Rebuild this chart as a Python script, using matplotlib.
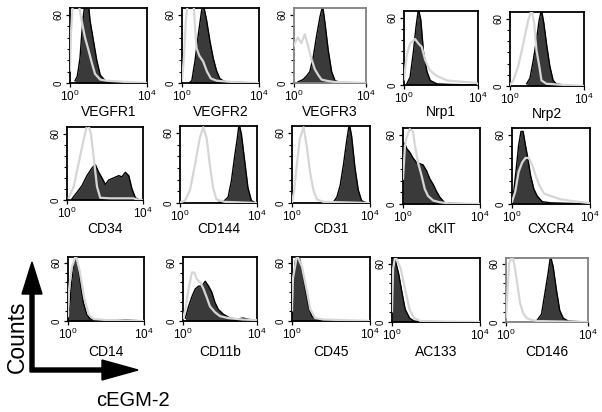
import numpy as np
import matplotlib
matplotlib.use('Agg')
import matplotlib.pyplot as plt
from matplotlib.patches import FancyArrow
from matplotlib.ticker import FixedLocator, LogLocator, NullFormatter

plt.rcParams['font.family'] = ['Liberation Sans', 'DejaVu Sans']
plt.rcParams['mathtext.default'] = 'regular'

W, H = 602, 412

# x in decades (log10 of fluorescence), y in counts
VEGFR1_pos_x = [0.26, 0.38, 0.52, 0.61, 0.70, 0.78, 0.96, 1.04, 1.22, 1.39, 1.57, 1.83, 2.6, 3.3, 4.0]
VEGFR1_pos_y = [2, 6, 22, 43, 60, 70, 70, 55, 37, 20, 7, 2, 0.5, 0.3, 0]
VEGFR1_ctl_x = [0, 0.05, 0.15, 0.45, 0.6, 0.78, 0.96, 1.13, 1.3, 1.57, 1.9, 2.8, 3.5, 4.0]
VEGFR1_ctl_y = [11, 44, 70, 70, 55, 40, 29, 18, 8, 3, 2, 1, 0.5, 0]

VEGFR2_pos_x = [0.4, 0.51, 0.68, 0.85, 1.02, 1.1, 1.28, 1.45, 1.62, 1.79, 1.96, 2.13, 2.3, 3.0, 4.0]
VEGFR2_pos_y = [0.5, 2, 20, 43, 64, 70, 55, 37, 22, 11, 4, 2, 1, 0.5, 0]
VEGFR2_ctl_x = [0, 0.1, 0.2, 0.3, 0.6, 0.75, 0.9, 1.1, 1.3, 1.5, 1.8, 2.5, 3.3, 4.0]
VEGFR2_ctl_y = [2, 22, 55, 70, 70, 31, 24, 19, 10, 4, 2, 1, 0.3, 0]

VEGFR3_pos_x = [0.22, 0.5, 0.69, 0.88, 1.07, 1.25, 1.44, 1.59, 1.72, 1.9, 2.09, 2.28, 2.6, 4.0]
VEGFR3_pos_y = [1, 3, 6, 10, 23, 41, 58, 68, 53, 29, 10, 2, 0.5, 0]
VEGFR3_ctl_x = [0, 0.04, 0.22, 0.41, 0.6, 0.79, 0.97, 1.16, 1.35, 1.53, 1.8, 2.2, 3.0, 4.0]
VEGFR3_ctl_y = [33, 35, 40, 35, 43, 32, 21, 12, 7, 3, 2, 1, 0.5, 0]

Nrp1_pos_x = [0.15, 0.33, 0.51, 0.65, 0.78, 0.91, 1.05, 1.24, 1.42, 1.78, 2.5, 4.0]
Nrp1_pos_y = [1, 7, 30, 52, 68, 58, 30, 12, 4, 1, 0.5, 0]
Nrp1_ctl_x = [0, 0.15, 0.33, 0.6, 0.78, 0.96, 1.15, 1.4, 1.78, 2.33, 3.05, 3.87, 4.0]
Nrp1_ctl_y = [5, 27, 37, 41, 37, 34, 22, 13, 8, 4, 3, 2, 1]

Nrp2_pos_x = [0.9, 1.08, 1.26, 1.43, 1.58, 1.7, 1.83, 1.97, 2.15, 2.33, 2.5, 3.0, 4.0]
Nrp2_pos_y = [2, 7, 23, 41, 59, 68, 56, 38, 18, 5, 2, 0.5, 0]
Nrp2_ctl_x = [0, 0.18, 0.45, 0.72, 0.99, 1.17, 1.31, 1.43, 1.58, 1.7, 1.97, 2.87, 4.0]
Nrp2_ctl_y = [1, 5, 18, 38, 59, 68, 56, 32, 18, 5, 2, 1, 0]

CD34_pos_x = [0.26, 0.53, 0.79, 1.05, 1.32, 1.49, 1.67, 1.84, 2.02, 2.19, 2.46, 2.72, 2.89, 3.07, 3.25, 3.42, 3.6, 3.77, 4.0]
CD34_pos_y = [1, 7, 13, 22, 29, 32, 25, 20, 14, 18, 20, 22, 21, 25, 22, 10, 2, 0.3, 0]
CD34_ctl_x = [0.09, 0.35, 0.61, 0.88, 1.09, 1.26, 1.44, 1.58, 1.75, 2.28, 3.5, 3.68, 4.0]
CD34_ctl_y = [2, 12, 33, 55, 70, 60, 33, 12, 2, 1.5, 1.5, 0.5, 0]

CD144_pos_x = [2.0, 2.24, 2.5, 2.67, 2.84, 2.98, 3.07, 3.19, 3.36, 3.53, 3.71, 3.88, 4.0]
CD144_pos_y = [0.5, 1, 5, 19, 40, 56, 68, 59, 36, 13, 2, 0.5, 0]
CD144_ctl_x = [0, 0.26, 0.52, 0.78, 1.03, 1.21, 1.38, 1.55, 1.72, 1.9, 2.3, 4.0]
CD144_ctl_y = [0.5, 2, 11, 33, 56, 65, 56, 33, 13, 3, 1, 0]

CD31_pos_x = [1.8, 2.13, 2.3, 2.47, 2.64, 2.81, 2.94, 3.06, 3.23, 3.4, 3.57, 3.74, 4.0]
CD31_pos_y = [0.5, 1, 5, 15, 33, 54, 68, 57, 30, 11, 2, 0.5, 0]
CD31_ctl_x = [0, 0.1, 0.25, 0.4, 0.6, 0.77, 0.94, 1.1, 1.28, 1.6, 4.0]
CD31_ctl_y = [1, 9, 33, 55, 65, 47, 25, 11, 3, 1, 0]

cKIT_pos_x = [0.0, 0.05, 0.1, 0.2, 0.35, 0.52, 0.7, 0.87, 1.04, 1.22, 1.39, 1.57, 1.74, 1.91, 2.17, 2.6, 4.0]
cKIT_pos_y = [22, 53, 52, 48, 45, 40, 36, 35, 34, 29, 22, 17, 11, 6, 1, 0.5, 0]
cKIT_ctl_x = [0, 0.1, 0.17, 0.35, 0.52, 0.61, 0.78, 0.96, 1.13, 1.3, 1.57, 1.91, 2.43, 4.0]
cKIT_ctl_y = [22, 50, 57, 65, 63, 52, 36, 25, 13, 7, 3, 1.5, 0.5, 0]

CXCR4_pos_x = [0.0, 0.09, 0.22, 0.34, 0.46, 0.57, 0.69, 0.81, 0.95, 1.12, 1.29, 1.55, 1.98, 3.0, 4.0]
CXCR4_pos_y = [3, 11, 31, 51, 63, 63, 51, 40, 25, 13, 7, 2, 1, 0.5, 0]
CXCR4_ctl_x = [0.0, 0.17, 0.34, 0.52, 0.69, 0.86, 1.03, 1.21, 1.38, 1.64, 1.98, 2.5, 3.36, 3.88, 4.0]
CXCR4_ctl_y = [2, 11, 28, 36, 40, 40, 34, 25, 17, 9, 7, 4, 2, 1, 0.5]

CD14_pos_x = [0.0, 0.09, 0.18, 0.3, 0.41, 0.54, 0.66, 0.81, 0.99, 1.17, 1.52, 2.5, 3.0, 3.5, 4.0]
CD14_pos_y = [3, 14, 38, 59, 68, 56, 38, 19, 7, 2, 1, 0.5, 1, 0.5, 0]
CD14_ctl_x = [0.0, 0.05, 0.2, 0.41, 0.63, 0.84, 1.08, 1.35, 2.0, 4.0]
CD14_ctl_y = [5, 32, 55, 68, 50, 25, 7, 2, 1, 0]

CD11b_pos_x = [0.13, 0.3, 0.48, 0.66, 0.84, 1.02, 1.2, 1.38, 1.55, 1.73, 1.91, 2.18, 2.54, 2.9, 3.25, 3.6, 3.88, 4.0]
CD11b_pos_y = [3, 15, 25, 33, 36, 36, 41, 36, 30, 19, 12, 7, 3, 2, 3, 1.5, 1, 0.5]
CD11b_ctl_x = [0.0, 0.13, 0.3, 0.48, 0.61, 0.75, 0.93, 1.11, 1.29, 1.46, 1.73, 2.0, 2.45, 3.25, 4.0]
CD11b_ctl_y = [3, 12, 33, 50, 50, 43, 40, 33, 24, 15, 9, 5, 3, 1.5, 1]

CD45_pos_x = [0.0, 0.05, 0.17, 0.34, 0.51, 0.68, 0.85, 1.02, 1.28, 1.79, 4.0]
CD45_pos_y = [5, 33, 62, 68, 54, 33, 15, 5, 2, 0.5, 0]
CD45_ctl_x = [0.0, 0.05, 0.26, 0.51, 0.77, 0.94, 1.19, 1.62, 2.5, 4.0]
CD45_ctl_y = [11, 44, 68, 56, 30, 12, 3, 1.5, 1, 0]

AC133_pos_x = [0.0, 0.05, 0.1, 0.3, 0.45, 0.6, 0.8, 1.0, 1.3, 2.5, 4.0]
AC133_pos_y = [11, 50, 68, 50, 31, 13, 4, 1, 0.5, 0.3, 0]
AC133_ctl_x = [0.0, 0.05, 0.15, 0.4, 0.6, 0.8, 1.0, 1.3, 2.0, 4.0]
AC133_ctl_y = [11, 55, 68, 55, 33, 13, 4, 1, 0.5, 0]

CD146_pos_x = [1.3, 1.49, 1.73, 1.9, 2.06, 2.17, 2.3, 2.46, 2.62, 2.79, 3.03, 3.43, 4.0]
CD146_pos_y = [0.5, 1, 8, 30, 51, 68, 57, 33, 12, 4, 1, 0.5, 0]
CD146_ctl_x = [0.0, 0.05, 0.15, 0.3, 0.4, 0.52, 0.68, 0.84, 1.0, 1.25, 1.5, 4.0]
CD146_ctl_y = [5, 22, 60, 68, 60, 44, 20, 9, 4, 2, 1, 0]

markers = ['VEGFR1', 'VEGFR2', 'VEGFR3', 'Nrp1', 'Nrp2',
           'CD34', 'CD144', 'CD31', 'cKIT', 'CXCR4',
           'CD14', 'CD11b', 'CD45', 'AC133', 'CD146']

data = {
    'VEGFR1': (VEGFR1_pos_x, VEGFR1_pos_y, VEGFR1_ctl_x, VEGFR1_ctl_y),
    'VEGFR2': (VEGFR2_pos_x, VEGFR2_pos_y, VEGFR2_ctl_x, VEGFR2_ctl_y),
    'VEGFR3': (VEGFR3_pos_x, VEGFR3_pos_y, VEGFR3_ctl_x, VEGFR3_ctl_y),
    'Nrp1': (Nrp1_pos_x, Nrp1_pos_y, Nrp1_ctl_x, Nrp1_ctl_y),
    'Nrp2': (Nrp2_pos_x, Nrp2_pos_y, Nrp2_ctl_x, Nrp2_ctl_y),
    'CD34': (CD34_pos_x, CD34_pos_y, CD34_ctl_x, CD34_ctl_y),
    'CD144': (CD144_pos_x, CD144_pos_y, CD144_ctl_x, CD144_ctl_y),
    'CD31': (CD31_pos_x, CD31_pos_y, CD31_ctl_x, CD31_ctl_y),
    'cKIT': (cKIT_pos_x, cKIT_pos_y, cKIT_ctl_x, cKIT_ctl_y),
    'CXCR4': (CXCR4_pos_x, CXCR4_pos_y, CXCR4_ctl_x, CXCR4_ctl_y),
    'CD14': (CD14_pos_x, CD14_pos_y, CD14_ctl_x, CD14_ctl_y),
    'CD11b': (CD11b_pos_x, CD11b_pos_y, CD11b_ctl_x, CD11b_ctl_y),
    'CD45': (CD45_pos_x, CD45_pos_y, CD45_ctl_x, CD45_ctl_y),
    'AC133': (AC133_pos_x, AC133_pos_y, AC133_ctl_x, AC133_ctl_y),
    'CD146': (CD146_pos_x, CD146_pos_y, CD146_ctl_x, CD146_ctl_y),
}

# panel boxes in pixels: left, right, top, bottom
boxes = [
    (70, 147, 8, 83), (182, 259, 8, 83), (294, 366, 8, 83), (404, 478, 11, 85), (510, 584, 12, 86),
    (67, 143, 127, 200), (180, 257, 126, 203), (292, 370, 126, 203), (403, 480, 128, 204), (512, 590, 128, 204),
    (68, 144, 257, 321), (183, 257, 257, 321), (292, 370, 257, 321), (392, 480, 258, 322), (506, 588, 258, 322),
]
label_y = [112, 112, 112, 112, 114, 229, 229, 229, 229, 229, 352, 352, 352, 352, 352]
grey_frame = ['VEGFR3', 'CD146']

fig = plt.figure(figsize=(W / 100, H / 100), dpi=100)

for name, (l, r, t, b), ly in zip(markers, boxes, label_y):
    ax = fig.add_axes([l / W, 1 - b / H, (r - l) / W, (b - t) / H])
    px, py, cx, cy = data[name]
    px = 10 ** np.array(px)
    cx = 10 ** np.array(cx)
    ax.fill_between(px, py, color='#3a3a3a', lw=0, zorder=1)
    ax.plot(px, py, color='black', lw=1.0, zorder=2)
    ax.plot(cx, cy, color='#d6d6d6', lw=1.6, zorder=3)
    ax.set_xscale('log')
    ax.set_xlim(1, 1e4)
    ax.set_ylim(0, 66)
    ax.set_xticks([1, 1e4])
    ax.set_xticklabels([r'$10^0$', r'$10^4$'], fontsize=8.5)
    ax.xaxis.set_minor_locator(LogLocator(base=10, subs=np.arange(2, 10)))
    ax.xaxis.set_minor_formatter(NullFormatter())
    ax.set_yticks([0, 60])
    ax.set_yticklabels(['0', '60'], rotation=90, va='center', fontsize=7)
    ax.yaxis.set_minor_locator(FixedLocator([10, 20, 30, 40, 50]))
    ax.tick_params(which='major', direction='out', length=3, width=0.9, pad=1.5)
    ax.tick_params(which='minor', direction='out', length=2, width=0.8)
    ec = '#808080' if name in grey_frame else 'black'
    for s in ax.spines.values():
        s.set_linewidth(1.3)
        s.set_color(ec)
    fig.text((l + r) / 2 / W, 1 - ly / H, name, ha='center', va='center', fontsize=10)

ov = fig.add_axes([0, 0, 1, 1], zorder=-1)
ov.set_xlim(0, W)
ov.set_ylim(H, 0)
ov.axis('off')
ov.add_patch(FancyArrow(32, 368, 0, -106, width=4, head_width=20, head_length=32,
                        length_includes_head=True, color='black'))
ov.add_patch(FancyArrow(30, 370, 108, 0, width=4, head_width=20, head_length=36,
                        length_includes_head=True, color='black'))
ov.text(17, 337, 'Counts', rotation=90, ha='center', va='center', fontsize=16.5)
ov.text(133, 400, 'cEGM-2', ha='center', va='center', fontsize=14.5)

fig.savefig('out.png', dpi=100)
